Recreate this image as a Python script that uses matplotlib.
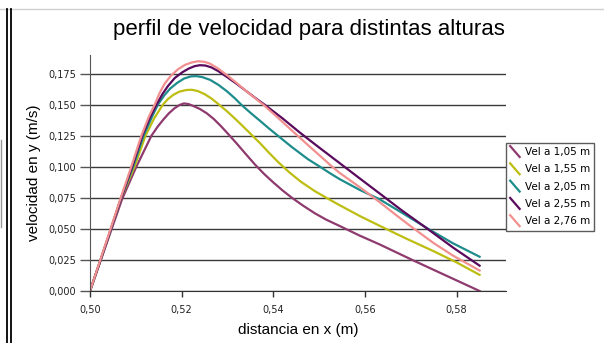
import matplotlib
matplotlib.use('Agg')
import matplotlib.pyplot as plt
from matplotlib.lines import Line2D
from matplotlib.legend_handler import HandlerBase

# velocidad medida a distintas alturas (x en m, v en m/s)
x_105 = [0.5000, 0.5035, 0.5070, 0.5101, 0.5134, 0.5148, 0.5160, 0.5172, 0.5184, 0.5195,
         0.5205, 0.5215, 0.5225, 0.5240, 0.5255, 0.5270, 0.5285, 0.5300, 0.5320, 0.5340,
         0.5360, 0.5380, 0.5400, 0.5420, 0.5440, 0.5465, 0.5490, 0.5515, 0.5545, 0.5589,
         0.5632, 0.5702, 0.5750, 0.5800, 0.5850]
v_105 = [0.000, 0.037, 0.074, 0.100, 0.125, 0.1325, 0.138, 0.143, 0.147, 0.1497,
         0.151, 0.1505, 0.149, 0.1465, 0.143, 0.1385, 0.133, 0.127, 0.1188, 0.1102,
         0.1018, 0.0942, 0.0874, 0.0810, 0.0752, 0.0687, 0.0627, 0.0575, 0.0523, 0.0445,
         0.0375, 0.0252, 0.017, 0.0085, 0.000]

x_155 = [0.5000, 0.5035, 0.5068, 0.5097, 0.5121, 0.5140, 0.5159, 0.5170, 0.5182, 0.5195,
         0.5210, 0.5222, 0.5235, 0.5250, 0.5265, 0.5280, 0.5298, 0.5320, 0.5345, 0.5371,
         0.5390, 0.5410, 0.5435, 0.5460, 0.5490, 0.5516, 0.5545, 0.5589, 0.5632, 0.5691,
         0.5750, 0.5800, 0.5850]
v_155 = [0.000, 0.038, 0.075, 0.100, 0.125, 0.139, 0.150, 0.1545, 0.158, 0.1605,
         0.1618, 0.162, 0.161, 0.1585, 0.155, 0.1505, 0.145, 0.1375, 0.1285, 0.119,
         0.1115, 0.104, 0.0955, 0.088, 0.0805, 0.075, 0.069, 0.0603, 0.0525, 0.0420,
         0.0320, 0.0230, 0.0130]

x_205 = [0.5000, 0.5035, 0.5068, 0.5094, 0.5117, 0.5135, 0.5148, 0.5162, 0.5175, 0.5190,
         0.5205, 0.5220, 0.5232, 0.5245, 0.5262, 0.5280, 0.5298, 0.5315, 0.5330, 0.5350,
         0.5371, 0.5390, 0.5410, 0.5440, 0.5476, 0.5502, 0.5525, 0.5545, 0.5589, 0.5632,
         0.5685, 0.5738, 0.5792, 0.5850]
v_205 = [0.000, 0.038, 0.075, 0.100, 0.125, 0.140, 0.150, 0.1575, 0.163, 0.1675,
         0.171, 0.1728, 0.173, 0.1722, 0.170, 0.166, 0.161, 0.1555, 0.150, 0.1435,
         0.137, 0.131, 0.125, 0.116, 0.106, 0.100, 0.0945, 0.090, 0.0813, 0.0738,
         0.062, 0.050, 0.0384, 0.0276]

x_255 = [0.5000, 0.5035, 0.5068, 0.5092, 0.5114, 0.5130, 0.5145, 0.5158, 0.5170, 0.5185,
         0.5201, 0.5215, 0.5228, 0.5240, 0.5252, 0.5265, 0.5280, 0.5298, 0.5320, 0.5340,
         0.5360, 0.5382, 0.5420, 0.5458, 0.5500, 0.5541, 0.5589, 0.5632, 0.5680, 0.5731,
         0.5792, 0.5850]
v_255 = [0.000, 0.038, 0.075, 0.100, 0.125, 0.139, 0.150, 0.1585, 0.165, 0.1715,
         0.176, 0.179, 0.181, 0.1818, 0.1815, 0.180, 0.177, 0.1725, 0.1668, 0.1612,
         0.1556, 0.1497, 0.139, 0.1275, 0.1155, 0.104, 0.0905, 0.0785, 0.065, 0.0515,
         0.035, 0.0204]

x_276 = [0.5000, 0.5035, 0.5068, 0.5090, 0.5112, 0.5128, 0.5141, 0.5152, 0.5163, 0.5177,
         0.5192, 0.5207, 0.5222, 0.5236, 0.5250, 0.5262, 0.5280, 0.5298, 0.5320, 0.5340,
         0.5360, 0.5378, 0.5410, 0.5447, 0.5480, 0.5509, 0.5527, 0.5545, 0.5589, 0.5632,
         0.5670, 0.5702, 0.5750, 0.5792, 0.5850]
v_276 = [0.000, 0.039, 0.076, 0.100, 0.125, 0.140, 0.150, 0.1595, 0.167, 0.1735,
         0.1785, 0.182, 0.184, 0.185, 0.1845, 0.183, 0.179, 0.174, 0.1675, 0.1612,
         0.1553, 0.150, 0.1395, 0.127, 0.116, 0.1065, 0.1005, 0.095, 0.0835, 0.0715,
         0.0605, 0.0515, 0.0385, 0.0285, 0.0165]

etiquetas = ['Vel a 1,05 m', 'Vel a 1,55 m', 'Vel a 2,05 m', 'Vel a 2,55 m', 'Vel a 2,76 m']
colores = ['#8E3A6E', '#BDBD12', '#1F8C8C', '#5A0A5C', '#F29090']
series = [(x_105, v_105), (x_155, v_155), (x_205, v_205), (x_255, v_255), (x_276, v_276)]

xticks = [0.50, 0.52, 0.54, 0.56, 0.58]
yticks = [0.000, 0.025, 0.050, 0.075, 0.100, 0.125, 0.150, 0.175]


class DiagonalHandler(HandlerBase):
    # muestra de leyenda en diagonal, estilo excel
    def create_artists(self, legend, orig_handle, xdescent, ydescent,
                       width, height, fontsize, trans):
        w = height * 1.3
        ln = Line2D([0, w], [height * 1.25, -height * 0.25],
                    color=orig_handle.get_color(), lw=orig_handle.get_linewidth())
        ln.set_transform(trans)
        return [ln]


fig = plt.figure(figsize=(6.04, 3.43), dpi=100)
ax = fig.add_axes([90 / 604, 1 - 291 / 343, (505.7 - 90) / 604, (291 - 55) / 343])

for (xs, vs), c, lab in zip(series, colores, etiquetas):
    ax.plot(xs, vs, color=c, lw=1.6, label=lab, solid_joinstyle='round')

ax.set_xlim(0.5, 0.5907)
ax.set_ylim(0, 0.19)
ax.set_xticks(xticks)
ax.set_yticks(yticks)
ax.set_xticklabels([f'{t:.2f}'.replace('.', ',') for t in xticks])
ax.set_yticklabels([f'{t:.3f}'.replace('.', ',') for t in yticks])
ax.yaxis.grid(True, color='#3a3a3a', lw=1.0)
ax.set_axisbelow(True)
for s in ['top', 'right']:
    ax.spines[s].set_visible(False)
ax.spines['left'].set_color('#555555')
ax.spines['bottom'].set_color('#333333')
ax.tick_params(axis='y', length=7, width=1, color='#555555', pad=3, labelsize=7)
ax.tick_params(axis='x', length=4, width=1, color='#333333', pad=6, labelsize=7)
for lbl in ax.get_xticklabels() + ax.get_yticklabels():
    lbl.set_color('#222222')

ax.set_xlabel('distancia en x (m)', fontsize=11, family='Liberation Sans', labelpad=6)
ax.set_ylabel('velocidad en y (m/s)', fontsize=11, family='Liberation Sans', labelpad=5)

fig.text(0.512, 0.915, 'perfil de velocidad para distintas alturas',
         ha='center', va='center', fontsize=16, family='Liberation Sans')

leg = ax.legend(loc='upper left', bbox_to_anchor=(506 / 604, 1 - 143 / 343),
                bbox_transform=fig.transFigure, fontsize=7.5,
                handler_map={Line2D: DiagonalHandler()},
                frameon=True, fancybox=False, borderpad=0.4, labelspacing=0.7,
                handlelength=1.1, handletextpad=0.3, borderaxespad=0)
leg.get_frame().set_edgecolor('#333333')
leg.get_frame().set_linewidth(1.0)

# marcos de la ventana
fig.add_artist(Line2D([0, 1], [1 - 9 / 343] * 2, color='#d0d0d0', lw=1, transform=fig.transFigure))
fig.add_artist(Line2D([7.5 / 604] * 2, [0, 1 - 9 / 343], color='black', lw=1.3, transform=fig.transFigure))
fig.add_artist(Line2D([10.5 / 604] * 2, [0, 1 - 9 / 343], color='black', lw=1.3, transform=fig.transFigure))
fig.add_artist(Line2D([0.5 / 604] * 2, [1 - 227 / 343, 1 - 140 / 343], color='#999999', lw=1, transform=fig.transFigure))

fig.savefig('out.png', dpi=100)
